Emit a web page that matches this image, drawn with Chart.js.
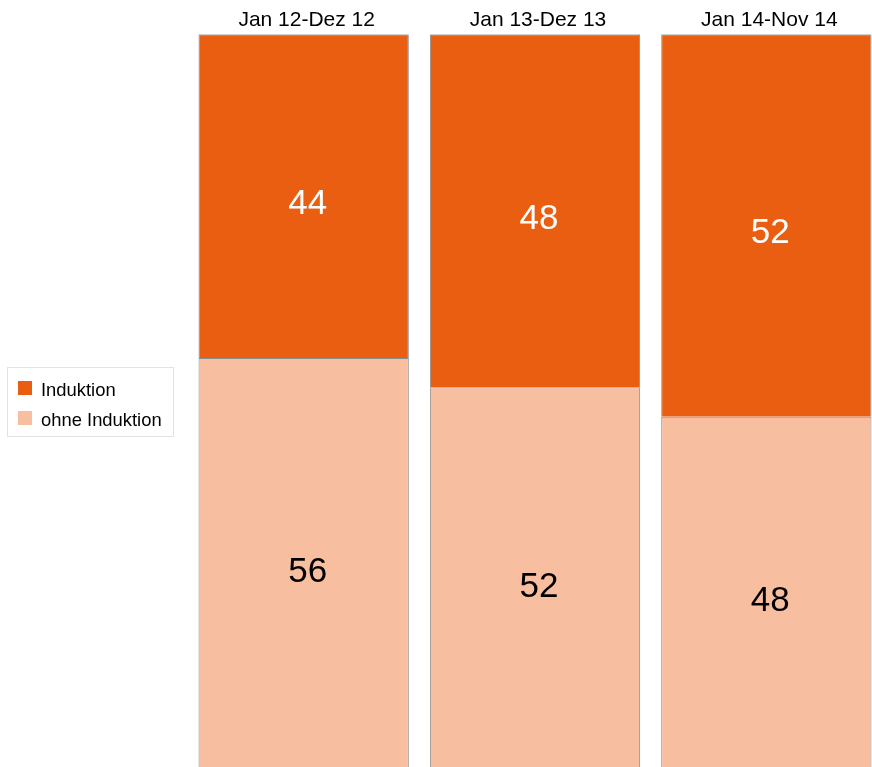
<!DOCTYPE html>
<html>
<head>
<meta charset="utf-8">
<script src="https://cdn.jsdelivr.net/npm/chart.js@4/dist/chart.umd.min.js"></script>
<style>
  html, body { margin: 0; padding: 0; background: #fff; overflow: hidden; }
  #wrap { width: 882px; height: 772px; }
</style>
</head>
<body>
<div id="wrap"><canvas id="chart" width="882" height="772"></canvas></div>
<script>
// data
const periods = ['Jan 12-Dez 12', 'Jan 13-Dez 13', 'Jan 14-Nov 14'];
const induktion = [44, 48, 52];
const ohneInduktion = [56, 52, 48];
const seriesNames = ['Induktion', 'ohne Induktion'];
const colors = ['#E95E10', '#F8BEA0'];

const FONT = '"Liberation Sans", Arial, sans-serif';

// numbers inside the bar segments
const segmentLabels = {
    id: 'segmentLabels',
    afterDatasetsDraw(chart) {
        const ctx = chart.ctx;
        ctx.save();
        ctx.font = '35px ' + FONT;
        ctx.textAlign = 'center';
        ctx.textBaseline = 'alphabetic';
        chart.data.datasets.forEach((ds, i) => {
            chart.getDatasetMeta(i).data.forEach((bar, j) => {
                const mid = (bar.y + bar.base) / 2;
                ctx.fillStyle = ds.labelColor;
                ctx.fillText(ds.data[j], bar.x + 4, mid + 18);
            });
        });
        ctx.restore();
    }
};

// legend box on the left
const sideLegend = {
    id: 'sideLegend',
    afterDraw(chart) {
        const ctx = chart.ctx;
        ctx.save();
        ctx.strokeStyle = '#e3e3e3';
        ctx.lineWidth = 1;
        ctx.strokeRect(7.5, 367.5, 166, 69);
        ctx.font = '18.4px ' + FONT;
        ctx.textBaseline = 'middle';
        seriesNames.forEach((name, i) => {
            const y = 391 + i * 30;
            ctx.fillStyle = colors[i];
            ctx.fillRect(18, y - 10, 14, 14);
            ctx.fillStyle = '#000';
            ctx.fillText(name, 41, y);
        });
        ctx.restore();
    }
};

new Chart(document.getElementById('chart'), {
    type: 'bar',
    data: {
        labels: periods,
        datasets: [
            {
                label: seriesNames[1],
                data: ohneInduktion,
                backgroundColor: colors[1],
                borderColor: '#8c8c8c',
                borderWidth: 1,
                labelColor: '#000'
            },
            {
                label: seriesNames[0],
                data: induktion,
                backgroundColor: colors[0],
                borderColor: '#8c8c8c',
                borderWidth: 1,
                labelColor: '#fff'
            }
        ]
    },
    options: {
        responsive: false,
        animation: false,
        layout: { padding: { left: 188, top: 6, right: 0, bottom: 2 } },
        datasets: { bar: { categoryPercentage: 1, barPercentage: 0.909 } },
        plugins: {
            legend: { display: false },
            tooltip: { enabled: false }
        },
        scales: {
            x: {
                stacked: true,
                position: 'top',
                grid: { display: false, drawTicks: false },
                border: { display: false },
                ticks: { color: '#000', font: { family: FONT, size: 21, lineHeight: 1.15 }, padding: 2, labelOffset: 3 }
            },
            y: {
                stacked: true,
                display: false,
                min: 0,
                max: 100
            }
        }
    },
    plugins: [segmentLabels, sideLegend]
});
</script>
</body>
</html>
